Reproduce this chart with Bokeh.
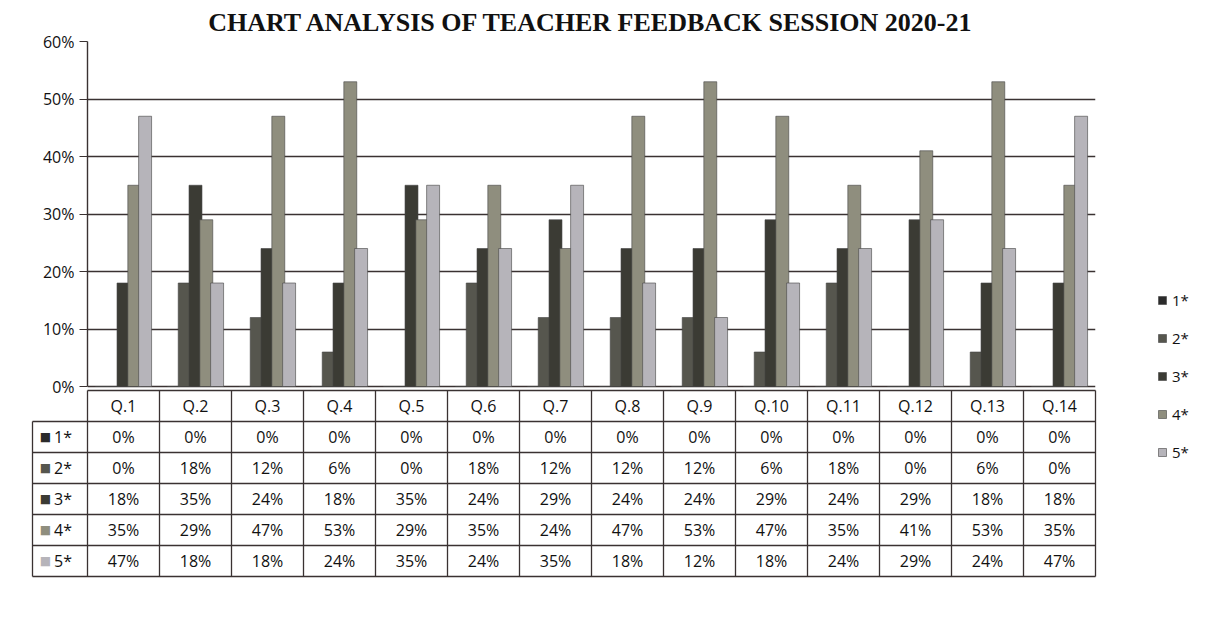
from bokeh.plotting import figure
from bokeh.models import (ColumnDataSource, FactorRange, Range1d, Legend, LegendItem,
                          SingleIntervalTicker, PrintfTickFormatter)
from bokeh.transform import dodge
from bokeh.core.properties import value
from bokeh.embed import file_html
from bokeh.resources import INLINE

# ---------------- data ----------------
questions = ["Q.1", "Q.2", "Q.3", "Q.4", "Q.5", "Q.6", "Q.7",
             "Q.8", "Q.9", "Q.10", "Q.11", "Q.12", "Q.13", "Q.14"]
series = ["1*", "2*", "3*", "4*", "5*"]
r1 = [0, 0, 0, 0, 0, 0, 0, 0, 0, 0, 0, 0, 0, 0]
r2 = [0, 18, 12, 6, 0, 18, 12, 12, 12, 6, 18, 0, 6, 0]
r3 = [18, 35, 24, 18, 35, 24, 29, 24, 24, 29, 24, 29, 18, 18]
r4 = [35, 29, 47, 53, 29, 35, 24, 47, 53, 47, 35, 41, 53, 35]
r5 = [47, 18, 18, 24, 35, 24, 35, 18, 12, 18, 24, 29, 24, 47]
y_tick_interval = 10
y_max = 60
title_text = "CHART ANALYSIS OF TEACHER FEEDBACK SESSION 2020-21"

rows_data = [r1, r2, r3, r4, r5]
colors = ["#2b2b2b", "#56564e", "#3b3b34", "#8f8e7e", "#b6b4ba"]
INK = "#3a3232"
FONT = "Open Sans"

# ---------------- geometry (pixels) ----------------
COL = 72                 # px per category column
HDR = 55                 # px for the row-header column of the table
FW = COL * len(questions)
CH = 345                 # px of the 0..60% chart area
GAP = 4                  # px between 0% line and table
RH = 31                  # px per table row
BPAD = 3
nq = len(questions)
ns = len(series)
TH = GAP + (ns + 1) * RH + BPAD
PXU = CH / y_max         # px per percent unit
hdr_u = HDR / COL

# ---------------- figure ----------------
src = ColumnDataSource(data=dict(q=questions, s1=r1, s2=r2, s3=r3, s4=r4, s5=r5))

p = figure(x_range=FactorRange(*questions), y_range=Range1d(-TH / PXU, y_max),
           frame_width=FW, frame_height=CH + TH,
           min_border_left=87, min_border_right=100,
           min_border_top=2, min_border_bottom=0,
           output_backend="svg", toolbar_location=None, title=title_text)
p.title.text_font = "Liberation Serif"
p.title.text_font_size = "26px"
p.title.text_font_style = "bold"
p.title.align = "center"
p.title.text_color = "#111111"
p.outline_line_color = None
p.xaxis.visible = False
p.xgrid.visible = False

p.yaxis.ticker = SingleIntervalTicker(interval=y_tick_interval, num_minor_ticks=0)
p.yaxis.bounds = (0, y_max)
p.yaxis.formatter = PrintfTickFormatter(format="%d%%")
p.yaxis.axis_line_color = INK
p.yaxis.axis_line_width = 1.4
p.yaxis.major_tick_line_color = INK
p.yaxis.major_tick_out = 8
p.yaxis.major_tick_in = 0
p.yaxis.minor_tick_line_color = None
p.yaxis.major_label_text_font = FONT
p.yaxis.major_label_text_font_size = "16px"
p.yaxis.major_label_text_color = "#111111"
p.ygrid.bounds = (0, y_max)
p.ygrid.grid_line_color = INK
p.ygrid.grid_line_width = 1.4

offsets = [-0.30, -0.15, 0.0, 0.15, 0.30]
keys = ["s1", "s2", "s3", "s4", "s5"]
bar_renderers = []
for i, k in enumerate(keys):
    r = p.vbar(x=dodge("q", offsets[i], range=p.x_range), top=k, width=0.18, source=src,
               fill_color=colors[i], line_color="#444444", line_alpha=0.6, line_width=1)
    bar_renderers.append(r)

# ---------------- data table (below the 0% line) ----------------
def ty(k):
    """y (data units) of table row boundary k (0 = top of header row)."""
    return -(GAP + k * RH) / PXU

x0, y0, x1, y1 = [], [], [], []
for k in range(1, ns + 2):
    x0.append(-hdr_u); x1.append(nq); y0.append(ty(k)); y1.append(ty(k))
x0.append(0); x1.append(nq); y0.append(ty(0)); y1.append(ty(0))
for j in range(nq + 1):
    x0.append(j); x1.append(j); y0.append(ty(0)); y1.append(ty(ns + 1))
x0.append(-hdr_u); x1.append(-hdr_u); y0.append(ty(1)); y1.append(ty(ns + 1))
p.segment(x0=x0, y0=y0, x1=x1, y1=y1, line_color=INK, line_width=1.3, level="overlay")

hy = (ty(0) + ty(1)) / 2
p.text(x=[j + 0.5 for j in range(nq)], y=[hy] * nq, text=questions,
       text_align="center", text_baseline="middle", text_font=value(FONT),
       text_font_size="16px", text_color="#111111", level="overlay")

vx, vy, vt = [], [], []
for i, vals in enumerate(rows_data):
    yc = (ty(i + 1) + ty(i + 2)) / 2
    for j, v in enumerate(vals):
        vx.append(j + 0.5)
        vy.append(yc)
        vt.append(f"{v}%")
p.text(x=vx, y=vy, text=vt, text_align="center", text_baseline="middle",
       text_font=value(FONT), text_font_size="16px", text_color="#111111", level="overlay")

row_y = [(ty(i + 1) + ty(i + 2)) / 2 for i in range(ns)]
p.text(x=[-hdr_u + 0.10] * ns, y=row_y, text=["\u25a0"] * ns, text_align="left",
       text_baseline="middle", text_font=value("DejaVu Sans"), text_font_size="12px",
       text_color=colors, level="overlay")
p.text(x=[-hdr_u + 0.30] * ns, y=row_y, text=series, text_align="left",
       text_baseline="middle", text_font=value(FONT), text_font_size="16px",
       text_color="#111111", level="overlay")

# ---------------- legend ----------------
items = [LegendItem(label=s, renderers=[bar_renderers[i]]) for i, s in enumerate(series)]
leg = Legend(items=items, location=(62, 117), glyph_width=10, glyph_height=10,
             label_height=20, spacing=18, padding=0, margin=0,
             label_text_font=FONT, label_text_font_size="15px",
             label_text_color="#111111", border_line_color=None,
             background_fill_alpha=0, label_standoff=5)
p.add_layout(leg, "right")

open("out.html", "w").write(file_html(p, INLINE))
